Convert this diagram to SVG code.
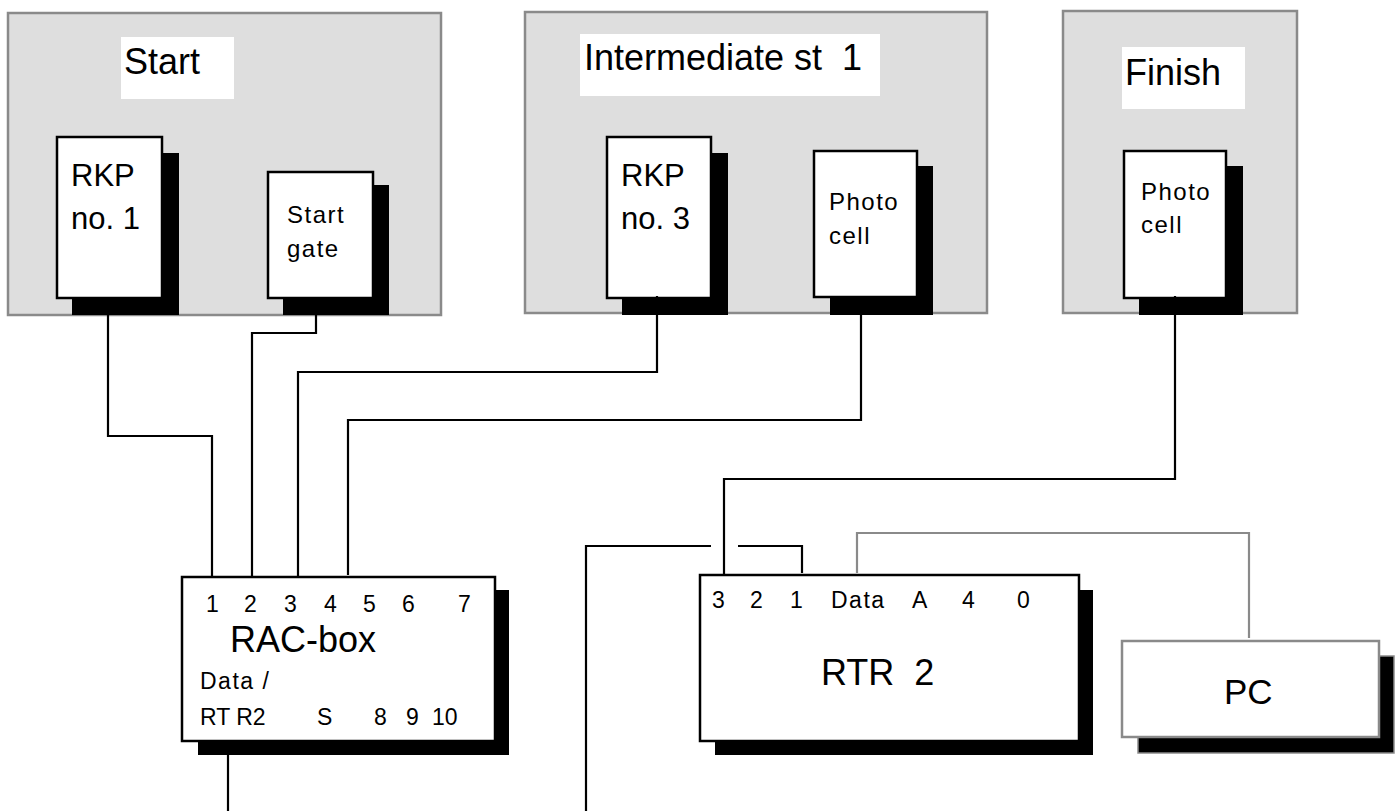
<svg xmlns="http://www.w3.org/2000/svg" width="1400" height="811" viewBox="0 0 1400 811">
<style>
text{font-family:"Liberation Sans",Arial,sans-serif;fill:#000}
.area{fill:#dedede;stroke:#8a8a8a;stroke-width:2.5}
.lbl{fill:#fff;stroke:none}
.sh{fill:#000}
.box{fill:#fff;stroke:#000;stroke-width:2.5}
.gbox{fill:#fff;stroke:#8a8a8a;stroke-width:2.5}
.gsh{fill:#000;stroke:#8a8a8a;stroke-width:1.5}
.big{font-size:36px}
.mid{font-size:31px}
.sm{font-size:24px;letter-spacing:1.5px}
.port{font-size:23px}
.ls{letter-spacing:1.5px}
.w{fill:none;stroke:#000;stroke-width:2.2}
.g{fill:none;stroke:#8a8a8a;stroke-width:2.2}
</style>
<rect width="1400" height="811" fill="#fff"/>
<g id="start">
<rect class="area" x="8" y="13" width="433" height="302"/>
<rect class="lbl" x="121" y="37" width="113" height="62"/>
<text class="big" x="124" y="74">Start</text>
</g>
<g id="rkp1">
<rect class="sh" x="72" y="153" width="107" height="162"/>
<rect class="box" x="57" y="137" width="105" height="161"/>
<text class="mid" x="71" y="186">RKP</text>
<text class="mid" x="71" y="229">no. 1</text>
</g>
<g id="startgate">
<rect class="sh" x="283" y="185" width="106" height="130"/>
<rect class="box" x="268" y="172" width="105" height="126"/>
<text class="sm" x="287" y="223">Start</text>
<text class="sm" x="287" y="257">gate</text>
</g>
<g id="intermediate">
<rect class="area" x="525" y="12" width="462" height="301"/>
<rect class="lbl" x="580" y="34" width="300" height="62"/>
<text class="big" x="584" y="70" xml:space="preserve">Intermediate st  1</text>
</g>
<g id="rkp3">
<rect class="sh" x="622" y="153" width="106" height="162"/>
<rect class="box" x="607" y="137" width="104" height="161"/>
<text class="mid" x="621" y="186">RKP</text>
<text class="mid" x="621" y="229">no. 3</text>
</g>
<g id="photocell1">
<rect class="sh" x="830" y="166" width="103" height="149"/>
<rect class="box" x="814" y="151" width="103" height="146"/>
<text class="sm" x="829" y="210">Photo</text>
<text class="sm" x="829" y="244">cell</text>
</g>
<g id="finish">
<rect class="area" x="1063" y="11" width="234" height="302"/>
<rect class="lbl" x="1122" y="47" width="123" height="62"/>
<text class="big" x="1125" y="85">Finish</text>
</g>
<g id="photocell2">
<rect class="sh" x="1139" y="166" width="104" height="149"/>
<rect class="box" x="1124" y="151" width="102" height="147"/>
<text class="sm" x="1141" y="200">Photo</text>
<text class="sm" x="1141" y="233">cell</text>
</g>
<g id="racbox">
<rect class="sh" x="198" y="590" width="311" height="165"/>
<rect class="box" x="182" y="577" width="313" height="164"/>
<g class="port">
<text x="206" y="612">1</text>
<text x="244" y="612">2</text>
<text x="284" y="612">3</text>
<text x="324" y="612">4</text>
<text x="363" y="612">5</text>
<text x="402" y="612">6</text>
<text x="458" y="612">7</text>
<text class="ls" x="200" y="689">Data /</text>
<text x="200" y="725">RT R2</text>
<text x="317" y="725">S</text>
<text x="374" y="725">8</text>
<text x="406" y="725">9</text>
<text x="432" y="725">10</text>
</g>
<text class="big" x="230" y="652">RAC-box</text>
</g>
<g id="rtr2">
<rect class="sh" x="715" y="590" width="378" height="165"/>
<rect class="box" x="700" y="575" width="379" height="166"/>
<g class="port">
<text x="712" y="608">3</text>
<text x="750" y="608">2</text>
<text x="790" y="608">1</text>
<text class="ls" x="831" y="608">Data</text>
<text x="912" y="608">A</text>
<text x="962" y="608">4</text>
<text x="1017" y="608">0</text>
</g>
<text class="big" x="821" y="685" xml:space="preserve">RTR  2</text>
</g>
<g id="pc">
<rect class="gsh" x="1138" y="656" width="256" height="97"/>
<rect class="gbox" x="1122" y="641" width="257" height="96"/>
<text style="font-size:35px" x="1224" y="704">PC</text>
</g>
<g id="connectors">
<polyline class="w" points="108,315 108,436 212,436 212,577"/>
<polyline class="w" points="316,315 316,333 252,333 252,577"/>
<polyline class="w" points="657,296 657,372 298,372 298,577"/>
<polyline class="w" points="861,296 861,420 348,420 348,575"/>
<polyline class="w" points="1175,296 1175,479 724,479 724,575"/>
<polyline class="w" points="586,811 586,546 711,546"/>
<polyline class="w" points="738,546 802,546 802,573"/>
<polyline class="g" points="857,573 857,533 1249,533 1249,638"/>
<line class="w" x1="228" y1="741" x2="228" y2="811"/>
</g>
</svg>
